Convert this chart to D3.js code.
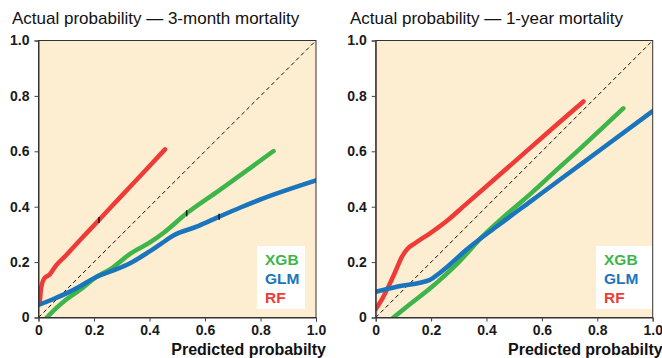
<!DOCTYPE html>
<html>
<head>
<meta charset="utf-8">
<script src="https://cdn.jsdelivr.net/npm/d3@7"></script>
<style>
  body { margin: 0; background: #ffffff; }
  svg { display: block; font-family: 'Liberation Sans', Arial, sans-serif; }
</style>
</head>
<body>
<div id="chart"></div>
<script>
// ---- data ----
const tickValues = [0, 0.2, 0.4, 0.6, 0.8, 1.0];
const tickLabels = ['0', '0.2', '0.4', '0.6', '0.8', '1.0'];
const seriesNames = ['XGB', 'GLM', 'RF'];
const seriesColors = ['#3db54a', '#1b75bc', '#ee3b37'];

const titles = ['Actual probability \u2014 3-month mortality', 'Actual probability \u2014 1-year mortality'];
const xLabel = 'Predicted probabilty';

// 3-month mortality: [predicted, actual]
const xgb3m = [[0.03, 0], [0.06, 0.03], [0.1, 0.065], [0.15, 0.1], [0.2, 0.14], [0.27, 0.182], [0.33, 0.23], [0.4, 0.27], [0.45, 0.305], [0.534, 0.376], [0.65, 0.458], [0.75, 0.53], [0.847, 0.601]];
const glm3m = [[0, 0.045], [0.05, 0.065], [0.1, 0.087], [0.15, 0.113], [0.21, 0.147], [0.27, 0.17], [0.33, 0.196], [0.39, 0.232], [0.44, 0.265], [0.486, 0.296], [0.57, 0.328], [0.651, 0.364], [0.73, 0.398], [0.81, 0.43], [1.0, 0.495]];
const rf3m = [[0.005, 0.06], [0.01, 0.11], [0.02, 0.14], [0.04, 0.155], [0.065, 0.19], [0.09, 0.215], [0.15, 0.28], [0.218, 0.352], [0.3, 0.44], [0.38, 0.525], [0.456, 0.607]];
const marks3m = [[0.534, 0.376], [0.651, 0.364], [0.218, 0.352]];

// 1-year mortality
const xgb1y = [[0.064, 0], [0.12, 0.045], [0.2, 0.108], [0.232, 0.136], [0.3, 0.2], [0.383, 0.29], [0.47, 0.37], [0.563, 0.45], [0.65, 0.53], [0.744, 0.615], [0.894, 0.755]];
const glm1y = [[0, 0.093], [0.076, 0.111], [0.196, 0.136], [0.23, 0.16], [0.262, 0.186], [0.322, 0.24], [0.443, 0.333], [0.563, 0.422], [0.683, 0.511], [0.804, 0.6], [1.0, 0.745]];
const rf1y = [[0, 0.03], [0.025, 0.07], [0.052, 0.124], [0.075, 0.175], [0.094, 0.218], [0.115, 0.248], [0.142, 0.268], [0.196, 0.304], [0.262, 0.353], [0.32, 0.404], [0.44, 0.509], [0.56, 0.614], [0.65, 0.693], [0.75, 0.78]];
const marks1y = [];

const panelSeries = [[xgb3m, glm3m, rf3m], [xgb1y, glm1y, rf1y]];
const panelMarks = [marks3m, marks1y];

// ---- layout ----
const totalWidth = 662;
const totalHeight = 358;
const panels = [
  { left: 38.5, right: 316, top: 40.5, bottom: 317.5, titleX: 12, legend: { x: 257, y: 246, w: 48, h: 63 } },
  { left: 375.7, right: 652.7, top: 40.5, bottom: 317.5, titleX: 350, legend: { x: 596, y: 246, w: 56, h: 63 } },
];

const svg = d3.select('#chart')
  .append('svg')
  .attr('width', totalWidth)
  .attr('height', totalHeight);

const drawPanel = (p, i) => {
  const xScale = d3.scaleLinear().domain([0, 1]).range([p.left, p.right]);
  const yScale = d3.scaleLinear().domain([0, 1]).range([p.bottom, p.top]);
  const g = svg.append('g');

  const clipId = `clip-${i}`;
  g.append('clipPath').attr('id', clipId)
    .append('rect')
    .attr('x', p.left).attr('y', p.top)
    .attr('width', p.right - p.left).attr('height', p.bottom - p.top);

  // beige plot background
  g.append('rect')
    .attr('x', p.left).attr('y', p.top)
    .attr('width', p.right - p.left).attr('height', p.bottom - p.top)
    .attr('fill', '#fdedd1');

  // title
  g.append('text')
    .attr('x', p.titleX).attr('y', 24)
    .attr('font-size', 17)
    .attr('fill', '#111')
    .text(titles[i]);

  // diagonal reference
  g.append('line')
    .attr('x1', xScale(0)).attr('y1', yScale(0))
    .attr('x2', xScale(1)).attr('y2', yScale(1))
    .attr('stroke', '#111')
    .attr('stroke-width', 1)
    .attr('stroke-dasharray', '4,3');

  const line = d3.line()
    .x((d) => xScale(d[0]))
    .y((d) => yScale(d[1]))
    .curve(d3.curveMonotoneX);

  const lines = g.append('g').attr('clip-path', `url(#${clipId})`);
  [0, 2, 1].forEach((s) => {
    lines.append('path')
      .datum(panelSeries[i][s])
      .attr('fill', 'none')
      .attr('stroke', seriesColors[s])
      .attr('stroke-width', 4.5)
      .attr('stroke-linecap', 'round')
      .attr('stroke-linejoin', 'round')
      .attr('d', line);
  });

  // small black marks on the curves
  g.selectAll('.mark')
    .data(panelMarks[i])
    .join('line')
    .attr('x1', (d) => xScale(d[0])).attr('x2', (d) => xScale(d[0]))
    .attr('y1', (d) => yScale(d[1]) - 3).attr('y2', (d) => yScale(d[1]) + 3)
    .attr('stroke', '#111')
    .attr('stroke-width', 1.5);

  // frame
  g.append('rect')
    .attr('x', p.left).attr('y', p.top)
    .attr('width', p.right - p.left).attr('height', p.bottom - p.top)
    .attr('fill', 'none')
    .attr('stroke', '#333')
    .attr('stroke-width', 1);

  // x axis
  const xAxis = g.append('g')
    .attr('transform', `translate(0, ${p.bottom})`)
    .call(d3.axisBottom(xScale).tickValues(tickValues).tickFormat((d, k) => tickLabels[k]).tickSize(4).tickPadding(4));
  // y axis
  const yAxis = g.append('g')
    .attr('transform', `translate(${p.left}, 0)`)
    .call(d3.axisLeft(yScale).tickValues(tickValues).tickFormat((d, k) => tickLabels[k]).tickSize(4).tickPadding(5));
  [xAxis, yAxis].forEach((ax) => {
    ax.select('.domain').attr('stroke', '#333').attr('stroke-width', 1);
    ax.selectAll('.tick line').attr('stroke', '#444').attr('stroke-width', 1);
    ax.selectAll('text')
      .attr('font-family', "'Liberation Sans', Arial, sans-serif")
      .attr('font-size', 14)
      .attr('font-weight', 'bold')
      .attr('fill', '#1a1a1a');
  });

  // x axis label
  g.append('text')
    .attr('x', p.right + 10).attr('y', 355)
    .attr('text-anchor', 'end')
    .attr('font-size', 16)
    .attr('font-weight', 'bold')
    .attr('fill', '#111')
    .text(xLabel);

  // legend
  g.append('rect')
    .attr('x', p.legend.x).attr('y', p.legend.y)
    .attr('width', p.legend.w).attr('height', p.legend.h)
    .attr('fill', '#ffffff');
  seriesNames.forEach((name, s) => {
    g.append('text')
      .attr('x', p.legend.x + 8)
      .attr('y', p.legend.y + 19 + s * 19)
      .attr('font-size', 15.5)
      .attr('font-weight', 'bold')
      .attr('fill', seriesColors[s])
      .text(name);
  });
};

panels.forEach(drawPanel);
</script>
</body>
</html>
